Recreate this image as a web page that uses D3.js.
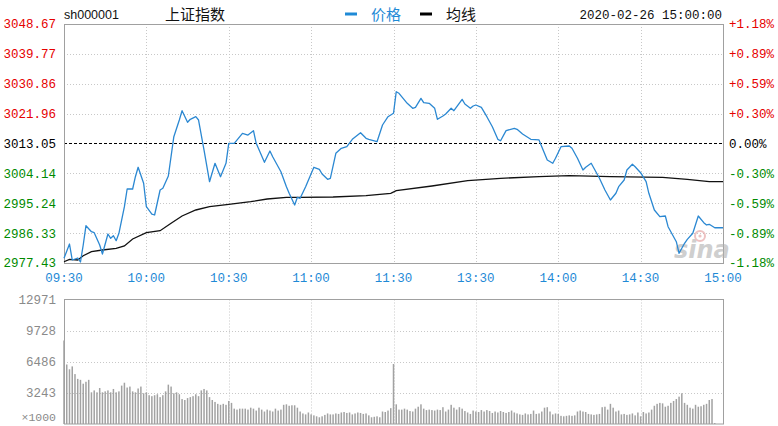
<!DOCTYPE html>
<html>
<head>
<meta charset="utf-8">
<script src="https://cdn.jsdelivr.net/npm/d3@7/dist/d3.min.js"></script>
<style>
html,body{margin:0;padding:0;background:#fff;}
svg{display:block;}
</style>
</head>
<body>
<svg id="chart" width="778" height="426"></svg>
<script>
// ---------- DATA ----------
const symbol = "sh000001";
const title = "上证指数";
const dateText = "2020-02-26 15:00:00";
const legendNames = ["价格", "均线"];
const prevClose = 3013.05;
const priceTicks = [3048.67, 3039.77, 3030.86, 3021.96, 3013.05, 3004.14, 2995.24, 2986.33, 2977.43];
const pctTicks = ["+1.18%", "+0.89%", "+0.59%", "+0.30%", "0.00%", "-0.30%", "-0.59%", "-0.89%", "-1.18%"];
const timeLabels = ["09:30", "10:00", "10:30", "11:00", "11:30", "13:30", "14:00", "14:30", "15:00"];
const timeTickMinutes = [0, 30, 60, 90, 120, 150, 180, 210, 240];
const volTicks = [12971, 9728, 6486, 3243];
const volUnit = "×1000";

// price line: minute index (0..240) and price
const priceMinutes = [0,2,3,5,6,7,8,10,11,13,14,16,17,18,19,20,22,23,25,26,27,29,30,32,33,35,36,38,40,42,43,45,46,48,49,51,53,55,56,57,59,60,62,65,67,69,70,73,75,76,79,81,82,84,85,86,88,91,93,94,96,97,99,101,103,105,108,110,111,114,116,118,120,121,122,125,127,128,130,131,133,135,136,138,139,141,142,145,146,148,149,150,152,154,156,158,159,161,164,165,167,170,173,174,176,178,179,181,184,185,187,189,190,192,193,195,197,199,201,202,204,205,207,208,210,212,213,215,217,219,220,223,224,226,227,229,231,233,234,235,237,240];
const priceValues = [2978.83,2983.09,2978.32,2978.92,2977.73,2982.79,2988.55,2986.76,2986.46,2982.79,2980.11,2986.07,2984.79,2985.57,2984.08,2986.28,2994.21,2999.49,2999.49,3003.15,3005.96,3001.19,2994.21,2992.03,2991.74,2999.19,2999.70,3003.36,3015.08,3020.05,3022.83,3019.37,3020.26,3021.04,3020.05,3011.11,3001.66,3007.15,3005.15,3003.15,3007.15,3013.11,3013.11,3016.09,3015.58,3016.87,3013.11,3007.45,3010.81,3009.11,3004.64,3000.17,2998.21,2994.72,2997.01,2996.71,3000.17,3005.96,3005.36,3003.96,3002.38,3002.67,3010.13,3011.62,3012.10,3014.30,3016.27,3014.60,3014.30,3013.59,3018.56,3021.04,3022.05,3028.49,3028.01,3025.03,3023.54,3023.84,3026.52,3025.21,3025.03,3023.54,3020.26,3021.25,3021.84,3023.54,3022.83,3026.22,3024.82,3023.54,3024.23,3024.53,3023.84,3021.04,3018.06,3014.30,3013.88,3016.87,3017.58,3017.28,3015.88,3014.30,3014.10,3012.10,3008.13,3007.15,3008.64,3012.10,3012.30,3011.62,3008.64,3005.15,3005.96,3007.15,3005.66,3002.68,2999.19,2996.21,2998.21,3000.17,3002.17,3005.15,3006.85,3006.13,3004.35,3001.66,2998.21,2993.23,2991.23,2991.44,2988.25,2983.78,2980.32,2983.30,2984.49,2986.28,2991.44,2989.44,2988.76,2988.96,2987.93,2987.93];

// average line
const avgMinutes = [0,2,5,7,10,14,19,22,25,30,35,39,43,48,53,60,68,74,81,86,98,110,119,121,134,147,159,173,184,199,218,227,235,240];
const avgValues = [2977.80,2978.53,2978.32,2979.61,2980.80,2981.30,2981.81,2982.50,2984.58,2986.46,2987.06,2989.26,2991.44,2993.23,2994.21,2994.93,2995.70,2996.51,2997.01,2997.01,2997.10,2997.49,2998.21,2998.98,3000.38,3001.96,3002.68,3003.15,3003.45,3003.15,3002.97,3002.38,3001.66,3001.66];

// volume per minute (x1000), minutes 0..240
const volumes = [8700,6200,5700,6000,5200,4700,4600,4200,4400,4600,
3300,3500,3300,3750,3300,3400,3500,3300,3650,3300,
3400,4000,4300,3800,3900,3400,3300,3700,3900,3200,
3300,3000,2900,3000,3100,2800,3000,3400,4100,3900,
3200,3300,3100,2600,2500,2700,2800,2900,3100,2900,
3500,3650,3500,2800,2500,2300,2100,2000,2100,2000,
2400,2200,1600,1500,1600,1600,1600,1500,1700,1600,
1400,1700,1500,1300,1500,1400,1300,1600,1400,1500,
2000,2050,1900,1950,1950,1700,1300,1100,1000,1200,
1000,900,800,700,800,950,1100,1000,1000,1100,
1050,1200,1250,1150,1200,1000,1100,1200,1150,1050,
1100,900,700,750,800,700,1300,1250,1400,1650,
6250,2050,1500,1500,1600,1500,1350,1300,1600,1800,
2050,1600,1450,1500,1450,1400,1500,1450,1750,1300,
1500,2000,1700,1500,1750,1600,1350,1200,1050,1400,
1300,1250,1450,1300,1450,1350,1150,1300,1200,1350,
1250,1150,1250,1400,1200,1100,1000,950,1100,1000,
1050,1400,1050,1100,1300,1700,1750,1300,1000,1100,
1050,850,800,850,900,850,900,1300,1400,1300,
1250,1050,1000,950,1000,1050,1750,1800,1500,2100,
1700,1300,1400,1000,1050,950,1000,1100,900,1200,
800,1250,1100,1200,1500,1900,2100,2200,2150,1800,
1900,2200,2400,2600,2850,3200,2200,2000,1700,1600,
2000,1800,1850,2000,2100,2500,2600,100,0,0,0];

// ---------- DRAW ----------
const svg = d3.select("#chart");
const monoFont = "'Liberation Mono', 'DejaVu Sans Mono', monospace";
const cjkFont = "'Noto Sans CJK SC', 'Noto Sans', sans-serif";
const L = 64, R = 723;
const pTop = 24, pBot = 263;
const vTop = 299.5, vBot = 424;

const x = d3.scaleLinear().domain([0, 240]).range([L, R]);
const y = d3.scaleLinear().domain([priceTicks[priceTicks.length-1], priceTicks[0]]).range([pBot, pTop]);
const yv = d3.scaleLinear().domain([0, volTicks[0]]).range([vBot, vTop]);

const gridColor = "#c8c8c8";
const borderColor = "#a0a0a0";

// price grid
const pg = svg.append("g");
pg.selectAll("line.h").data(priceTicks.slice(1, -1)).join("line")
  .attr("x1", L).attr("x2", R)
  .attr("y1", d => Math.round(y(d)) + 0.5).attr("y2", d => Math.round(y(d)) + 0.5)
  .attr("stroke", d => d === prevClose ? "#000" : gridColor)
  .attr("stroke-width", d => d === prevClose ? 1.2 : 1)
  .attr("stroke-dasharray", d => d === prevClose ? "3,2" : "1,2");
pg.selectAll("line.v").data(timeTickMinutes.slice(1, -1)).join("line")
  .attr("x1", d => Math.round(x(d)) + 0.5).attr("x2", d => Math.round(x(d)) + 0.5)
  .attr("y1", pTop).attr("y2", pBot)
  .attr("stroke", gridColor).attr("stroke-dasharray", "1,2");
svg.append("rect").attr("x", L + 0.5).attr("y", pTop + 0.5)
  .attr("width", R - L).attr("height", pBot - pTop)
  .attr("fill", "none").attr("stroke", borderColor);

// volume grid
const vg = svg.append("g");
vg.selectAll("line.h").data(volTicks.slice(1)).join("line")
  .attr("x1", L).attr("x2", R)
  .attr("y1", d => Math.round(yv(d)) + 0.5).attr("y2", d => Math.round(yv(d)) + 0.5)
  .attr("stroke", gridColor).attr("stroke-dasharray", "1,2");
vg.selectAll("line.v").data(timeTickMinutes.slice(1, -1)).join("line")
  .attr("x1", d => Math.round(x(d)) + 0.5).attr("x2", d => Math.round(x(d)) + 0.5)
  .attr("y1", vTop).attr("y2", vBot)
  .attr("stroke", gridColor).attr("stroke-dasharray", "1,2");

// volume bars
svg.append("g").selectAll("rect").data(volumes).join("rect")
  .attr("x", (d, i) => x(i) - 0.75)
  .attr("width", 1.5)
  .attr("y", d => yv(d))
  .attr("height", d => vBot - yv(d))
  .attr("fill", "#a2a2a2");

svg.append("rect").attr("x", L + 0.5).attr("y", vTop)
  .attr("width", R - L).attr("height", vBot - vTop)
  .attr("fill", "none").attr("stroke", borderColor);

// sina watermark
const wm = svg.append("g").attr("opacity", 0.6);
wm.append("text").attr("x", 674).attr("y", 258)
  .attr("font-family", "'DejaVu Sans', sans-serif").attr("font-style", "italic")
  .attr("font-weight", "bold").attr("font-size", 24).attr("fill", "#b0b0b0")
  .text("sina");
wm.append("circle").attr("cx", 700).attr("cy", 236).attr("r", 5)
  .attr("fill", "none").attr("stroke", "#e39a9a").attr("stroke-width", 2);
wm.append("circle").attr("cx", 700).attr("cy", 236).attr("r", 1.6).attr("fill", "#e39a9a");

// lines
const priceData = priceMinutes.map((m, i) => ({m, p: priceValues[i]}));
const avgData = avgMinutes.map((m, i) => ({m, p: avgValues[i]}));
const line = d3.line().x(d => x(d.m)).y(d => y(d.p));
svg.append("path").datum(avgData).attr("d", line)
  .attr("fill", "none").attr("stroke", "#111").attr("stroke-width", 1.3);
svg.append("path").datum(priceData).attr("d", line)
  .attr("fill", "none").attr("stroke", "#2b88d2").attr("stroke-width", 1.3)
  .attr("stroke-linejoin", "round");

// axis labels
const colorFor = (i) => i < 4 ? "#e60000" : (i === 4 ? "#000" : "#008a00");
svg.append("g").selectAll("text").data(priceTicks).join("text")
  .attr("x", 56).attr("y", d => y(d)).attr("dy", "0.35em")
  .attr("text-anchor", "end").attr("font-family", monoFont).attr("font-size", 12.5)
  .attr("fill", (d, i) => colorFor(i))
  .text(d => d.toFixed(2));
svg.append("g").selectAll("text").data(pctTicks).join("text")
  .attr("x", 729).attr("y", (d, i) => y(priceTicks[i])).attr("dy", "0.35em")
  .attr("text-anchor", "start").attr("font-family", monoFont).attr("font-size", 12.5)
  .attr("fill", (d, i) => colorFor(i))
  .text(d => d);
svg.append("g").selectAll("text").data(timeLabels).join("text")
  .attr("x", (d, i) => x(timeTickMinutes[i])).attr("y", 278).attr("dy", "0.35em")
  .attr("text-anchor", "middle").attr("font-family", monoFont).attr("font-size", 12.5)
  .attr("fill", "#1f8ad6")
  .text(d => d);
svg.append("g").selectAll("text").data(volTicks).join("text")
  .attr("x", 56).attr("y", d => yv(d)).attr("dy", "0.35em")
  .attr("text-anchor", "end").attr("font-family", monoFont).attr("font-size", 12.5)
  .attr("fill", "#8a8a8a")
  .text(d => d);
svg.append("text").attr("x", 56).attr("y", 417).attr("dy", "0.35em")
  .attr("text-anchor", "end").attr("font-family", monoFont).attr("font-size", 11.5)
  .attr("fill", "#8a8a8a").text(volUnit);

// header
svg.append("text").attr("x", 64).attr("y", 19)
  .attr("font-family", "'Liberation Sans', Arial, sans-serif").attr("font-size", 12.5)
  .attr("fill", "#111").text(symbol);
svg.append("text").attr("x", 165).attr("y", 20)
  .attr("font-family", cjkFont).attr("font-size", 15)
  .attr("fill", "#111").text(title);
svg.append("line").attr("x1", 345).attr("x2", 357).attr("y1", 14).attr("y2", 14)
  .attr("stroke", "#1f8ad6").attr("stroke-width", 3);
svg.append("text").attr("x", 371).attr("y", 20)
  .attr("font-family", cjkFont).attr("font-size", 15)
  .attr("fill", "#1f8ad6").text(legendNames[0]);
svg.append("line").attr("x1", 420).attr("x2", 432).attr("y1", 14).attr("y2", 14)
  .attr("stroke", "#000").attr("stroke-width", 3);
svg.append("text").attr("x", 446).attr("y", 20)
  .attr("font-family", cjkFont).attr("font-size", 15)
  .attr("fill", "#111").text(legendNames[1]);
svg.append("text").attr("x", 722).attr("y", 19)
  .attr("text-anchor", "end").attr("font-family", monoFont).attr("font-size", 12.5)
  .attr("fill", "#111").text(dateText);
</script>
</body>
</html>
